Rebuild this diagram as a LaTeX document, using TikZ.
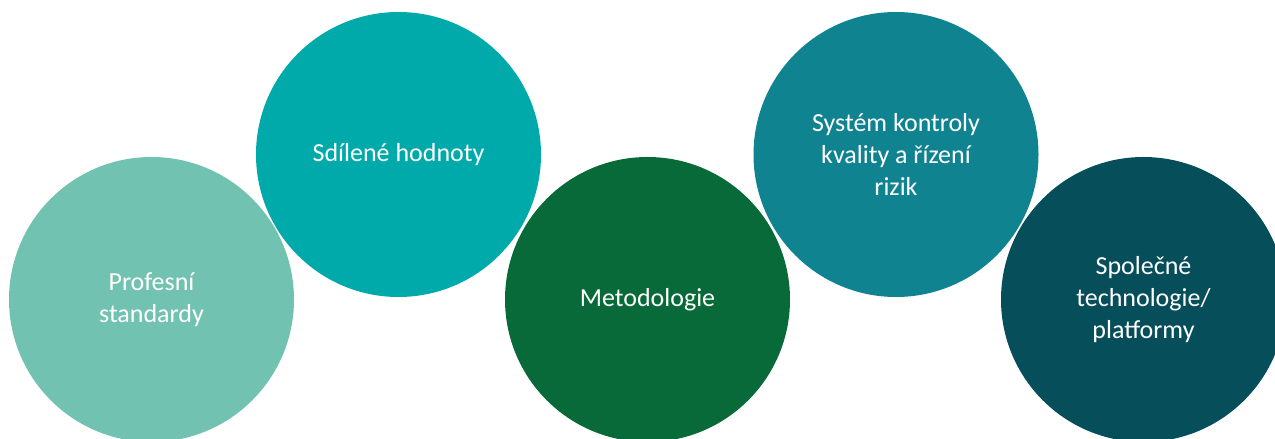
\documentclass[tikz,border=0pt]{standalone}
\usepackage{fontspec}
\setmainfont{Carlito}
\usepackage{tikz}
\usetikzlibrary{positioning}
\definecolor{mintgreen}{HTML}{72C2B2}
\definecolor{tealblue}{HTML}{00AAAA}
\definecolor{darkgreen}{HTML}{076A38}
\definecolor{petrol}{HTML}{0F8390}
\definecolor{deepteal}{HTML}{064E59}
\tikzstyle{bub}=[%
      circle, draw=none, text=white, font=\fontsize{26}{32}\selectfont,
      minimum size=285pt, inner sep=0pt, align=center
]

\begin{document}
\begin{tikzpicture}[x=1pt,y=1pt]
\useasboundingbox (0,0) rectangle (1275,439);
\node[bub, fill=mintgreen](prof) at (151.5,139.5){Profesní\\standardy};
\node[bub, fill=tealblue](hodn) at (398.5,284.5){Sdílené hodnoty};
\node[bub, fill=darkgreen](meto) at (647.5,139.5){Metodologie};
\node[bub, fill=petrol](kval) at (896,284.5){Systém kontroly\\kvality a řízení\\rizik};
\node[bub, fill=deepteal](tech) at (1143.5,139.5){Společné\\technologie/\\platformy};
\end{tikzpicture}
\end{document}
